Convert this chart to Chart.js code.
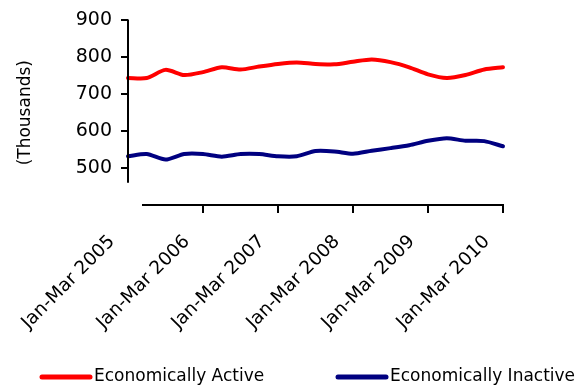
<!DOCTYPE html>
<html>
<head>
<meta charset="utf-8">
<script src="https://cdn.jsdelivr.net/npm/chart.js@4"></script>
<style>
  html, body { margin: 0; padding: 0; background: #fff; }
  canvas { display: block; }
</style>
</head>
<body>
<canvas id="labourChart" width="584" height="388"></canvas>
<script>
// Quarterly labour market status, thousands
const quarters = [
    "Jan-Mar 2005", "Apr-Jun 2005", "Jul-Sep 2005", "Oct-Dec 2005",
    "Jan-Mar 2006", "Apr-Jun 2006", "Jul-Sep 2006", "Oct-Dec 2006",
    "Jan-Mar 2007", "Apr-Jun 2007", "Jul-Sep 2007", "Oct-Dec 2007",
    "Jan-Mar 2008", "Apr-Jun 2008", "Jul-Sep 2008", "Oct-Dec 2008",
    "Jan-Mar 2009", "Apr-Jun 2009", "Jul-Sep 2009", "Oct-Dec 2009",
    "Jan-Mar 2010"
];
const economicallyActive = [744, 744, 766, 752, 760, 773, 767, 775, 782, 786, 782, 781, 788, 794, 787, 773, 754, 744, 752, 767, 773];
const economicallyInactive = [532, 538, 523, 538, 538, 531, 538, 538, 532, 532, 546, 545, 539, 547, 554, 562, 574, 581, 574, 573, 559];
const yTicks = [400, 500, 600, 700, 800, 900];

const FONT = "'DejaVu Sans', Verdana, sans-serif";

// axis lines are drawn by hand so the y axis stops short of the x axis
const axisLines = {
    id: 'axisLines',
    afterDraw(chart) {
        const { ctx, chartArea, scales } = chart;
        const top = scales.y.getPixelForValue(yTicks[yTicks.length - 1]);
        const yEnd = scales.y.getPixelForValue(460);
        ctx.save();
        ctx.strokeStyle = '#000';
        ctx.lineWidth = 2;
        ctx.beginPath();
        ctx.moveTo(chartArea.left, top - 1);
        ctx.lineTo(chartArea.left, yEnd);
        ctx.moveTo(chartArea.left + 14, chartArea.bottom);
        ctx.lineTo(chartArea.right + 1, chartArea.bottom);
        ctx.stroke();
        ctx.restore();
    }
};

// legend along the bottom, one line sample per series
const legendSlots = [42, 338];
const bottomLegend = {
    id: 'bottomLegend',
    afterDraw(chart) {
        const { ctx } = chart;
        const y = 377;
        ctx.save();
        ctx.font = '17px ' + FONT;
        ctx.textBaseline = 'middle';
        chart.data.datasets.forEach((ds, i) => {
            const x = legendSlots[i];
            ctx.strokeStyle = ds.borderColor;
            ctx.lineWidth = 5;
            ctx.lineCap = 'round';
            ctx.beginPath();
            ctx.moveTo(x, y);
            ctx.lineTo(x + 48, y);
            ctx.stroke();
            ctx.fillStyle = '#000';
            ctx.fillText(ds.label, x + 52, y);
        });
        ctx.restore();
    }
};

new Chart(document.getElementById('labourChart'), {
    type: 'line',
    data: {
        labels: quarters,
        datasets: [
            {
                label: 'Economically Active',
                data: economicallyActive,
                borderColor: '#ff0000',
                borderWidth: 4,
                pointRadius: 0,
                tension: 0.25,
                borderCapStyle: 'round',
                borderJoinStyle: 'round',
                clip: false
            },
            {
                label: 'Economically Inactive',
                data: economicallyInactive,
                borderColor: '#000080',
                borderWidth: 4,
                pointRadius: 0,
                tension: 0.25,
                borderCapStyle: 'round',
                borderJoinStyle: 'round',
                clip: false
            }
        ]
    },
    plugins: [axisLines, bottomLegend],
    options: {
        responsive: false,
        animation: false,
        layout: { padding: { left: 15, top: 19, right: 81, bottom: 0 } },
        plugins: {
            legend: { display: false },
            tooltip: { enabled: false }
        },
        scales: {
            x: {
                border: { display: false },
                grid: {
                    drawOnChartArea: false,
                    tickLength: 8,
                    lineWidth: 2,
                    color: c => (c.index > 0 && c.index % 4 === 0) ? '#000' : 'rgba(0,0,0,0)'
                },
                ticks: {
                    autoSkip: false,
                    maxRotation: 45,
                    minRotation: 45,
                    padding: 18,
                    labelOffset: -16,
                    color: '#000',
                    font: { family: FONT, size: 18.5 },
                    callback: function (value, index) {
                        return index % 4 === 0 ? this.getLabelForValue(value) : '';
                    }
                },
                afterFit: scale => { scale.height = 183; }
            },
            y: {
                min: yTicks[0],
                max: yTicks[yTicks.length - 1],
                border: { display: false },
                grid: {
                    drawOnChartArea: false,
                    tickLength: 7,
                    lineWidth: 2,
                    color: c => c.tick.value === yTicks[0] ? 'rgba(0,0,0,0)' : '#000'
                },
                ticks: {
                    stepSize: 100,
                    padding: 9,
                    color: '#000',
                    font: { family: FONT, size: 19 },
                    callback: v => v === yTicks[0] ? '' : v
                },
                title: {
                    display: true,
                    text: '(Thousands)',
                    color: '#000',
                    font: { family: FONT, size: 17 },
                    padding: { top: 0, bottom: 0 }
                },
                afterFit: scale => { scale.width = 113; }
            }
        }
    }
});
</script>
</body>
</html>
